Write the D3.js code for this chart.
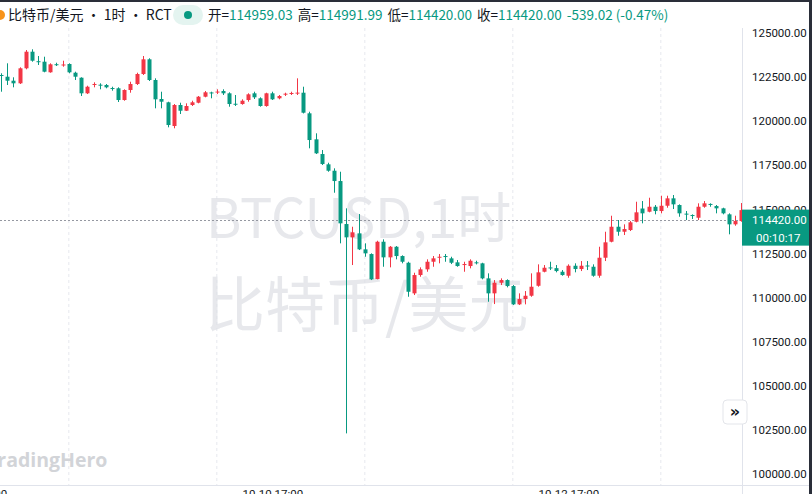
<!DOCTYPE html>
<html>
<head>
<meta charset="utf-8">
<script src="https://cdn.jsdelivr.net/npm/d3@7"></script>
<style>
  body { margin: 0; background: #fff; overflow: hidden; }
  svg { display: block; }
</style>
</head>
<body>
<svg id="chart" width="812" height="494"></svg>
<script>
// hourly candles (display time, UTC+8)
const startTime = new Date(Date.UTC(2025, 9, 8, 21, 0));

const open = [122619,122522,122296,122148,122999,123940,123400,123373,122772,123230,
  123190,123242,122749,122466,121581,122080,122070,122052,121880,121865,
  121201,121768,122108,122675,123509,122335,121258,121071,119727,120918,
  120594,120918,121048,121388,121630,121650,121710,121581,120990,120974,
  121201,121581,121298,120861,121581,121298,121520,121560,121590,121615,
  120447,118973,118139,117555,117192,116608,114170,113416,113643,112736,
  112469,111052,113167,112282,112883,112356,111976,110241,111279,111602,
  112033,112260,112356,112225,111999,111880,111789,112000,111942,111091,
  110241,110842,110995,110655,109617,109918,110105,110670,111466,111710,
  111670,111466,111240,111806,111619,111820,111750,111240,112260,113167,
  114017,113734,113830,114300,115050,114868,115151,114907,115208,115627,
  115248,114760,114680,114527,115151,115310,115190,115060,114720,114153,
  114340,114959.03];
const high = [122715,123282,122488,123055,124036,124076,123696,123656,123282,123316,
  123429,123282,122806,122488,122012,122205,122148,122108,121955,121921,
  121808,122239,122749,123696,123566,122431,121672,121105,120974,121048,
  121014,121161,121428,121711,121672,121808,121808,121638,121485,121241,
  121581,121672,121354,121615,121672,121485,121615,121672,122431,121955,
  120538,119313,118366,117646,117329,117136,115060,114017,114737,113076,
  112509,113223,113303,112923,112923,112396,112033,111409,111715,112169,
  112356,112469,112469,112316,112130,112033,112169,112090,111976,111375,
  110995,111091,111035,110712,110241,110371,111375,111885,111846,112033,
  111846,111562,111885,111942,112072,112072,111885,112883,113734,114641,
  114397,114153,114340,115435,115474,115662,115248,115775,115775,115815,
  115287,114907,114720,115344,115474,115344,115248,115095,114777,114641,
  115361,114991.99];
const low = [121672,122052,121921,122108,122942,123373,123186,122772,122749,123129,
  123089,122715,122335,121428,121541,121921,121808,121865,121728,121088,
  121161,121615,122052,122619,122278,120730,120730,119653,119597,120407,
  120577,120861,121014,121354,121298,121541,121485,120821,120861,120935,
  121105,121258,120821,120821,121201,121241,121428,121485,121485,120440,
  118463,118139,117516,117136,115945,113076,102303,111846,112696,112316,
  110995,111035,111749,111715,112169,111942,110048,110145,111183,111466,
  111749,111942,112033,111902,111749,111466,111658,111880,111035,109765,
  109634,110712,110581,109578,109578,109617,110048,110616,111432,111562,
  111432,111240,111126,111432,111505,111562,111183,111126,112072,113133,
  113507,113547,113773,114267,114210,114834,114720,114777,115095,115021,
  114584,114397,114454,114397,115095,115151,114777,114720,113587,114074,
  114300,114420];
const close = [122580,122296,122148,122999,123940,123429,123373,122806,123225,123200,
  123215,122772,122522,121581,121955,122110,122040,121921,121850,121201,
  121768,122108,122675,123509,122335,121241,121105,119784,120918,120594,
  120861,121071,121388,121638,121600,121680,121581,120974,120960,121161,
  121524,121354,120861,121581,121241,121428,121560,121600,121620,120481,
  118933,118179,117572,117192,116608,114210,113416,113700,112736,112509,
  111035,113167,112282,112883,112356,112033,110332,111279,111602,112033,
  112225,112316,112320,111976,111789,111902,112089,111960,111091,110241,
  110842,110995,110655,109617,109918,110105,110616,111432,111693,111670,
  111505,111279,111806,111619,111806,111790,111240,112260,113133,114017,
  113734,113887,114267,114834,114777,115151,114907,115208,115627,115287,
  114777,114720,114640,115151,115344,115280,115060,114777,114153,114340,
  114959,114420];

const yTicks = [100000,102500,105000,107500,110000,112500,115000,117500,120000,122500,125000];
const xLabelTimes = [Date.UTC(2025,9,8,17), Date.UTC(2025,9,10,17), Date.UTC(2025,9,12,17)];
const gridTimes = [Date.UTC(2025,9,9,8), Date.UTC(2025,9,10,8), Date.UTC(2025,9,11,8),
  Date.UTC(2025,9,12,8), Date.UTC(2025,9,13,8)];

const header = ["开=", "114959.03", "高=", "114991.99", "低=", "114420.00", "收=", "114420.00", "-539.02 (-0.47%)"];
const lastPrice = 114420;

const W = 812, H = 494;
const plotRight = 742, plotBottom = 485;
const up = "#f23645", down = "#089981";

const times = open.map((d, i) => d3.utcHour.offset(startTime, i));
const candles = open.map((o, i) => ({ t: times[i], o: o, h: high[i], l: low[i], c: close[i] }));

const x = d3.scaleUtc().domain([times[0], times[120]]).range([1, 741]);
const y = d3.scaleLinear().domain([100000, 125000]).range([474, 33]);

const svg = d3.select("#chart");
svg.append("rect").attr("width", W).attr("height", H).attr("fill", "#fff");

svg.append("defs").append("clipPath").attr("id", "plot")
  .append("rect").attr("x", 0).attr("y", 28).attr("width", plotRight).attr("height", plotBottom - 28);

// vertical day grid
svg.append("g").selectAll("line").data(gridTimes).join("line")
  .attr("x1", d => x(d)).attr("x2", d => x(d))
  .attr("y1", 28).attr("y2", plotBottom)
  .attr("stroke", "#e6e8ee").attr("stroke-dasharray", "3,3");

// watermark
const wm = svg.append("g").attr("fill", "#dfe1e6").attr("opacity", 0.75)
  .style("font-family", "'Noto Sans CJK SC', 'Noto Sans', sans-serif");
wm.append("text").attr("x", 206).attr("y", 238).attr("font-size", 54).text("BTCUSD,1时");
wm.append("text").attr("x", 205).attr("y", 327).attr("font-size", 60).text("比特币/美元");

// last price line
svg.append("line")
  .attr("x1", 0).attr("x2", plotRight)
  .attr("y1", Math.round(y(lastPrice)) + 0.5).attr("y2", Math.round(y(lastPrice)) + 0.5)
  .attr("stroke", "#9598a1").attr("stroke-dasharray", "2,2");

// candles
const bw = 4;
const cg = svg.append("g").attr("clip-path", "url(#plot)");
const cand = cg.selectAll("g").data(candles).join("g")
  .attr("fill", d => d.c >= d.o ? up : down)
  .attr("stroke", d => d.c >= d.o ? up : down);
cand.append("line")
  .attr("x1", d => Math.round(x(d.t)) + 0.5).attr("x2", d => Math.round(x(d.t)) + 0.5)
  .attr("y1", d => y(d.h)).attr("y2", d => y(d.l));
cand.append("rect")
  .attr("stroke", "none")
  .attr("x", d => Math.round(x(d.t)) - bw / 2 + 0.5)
  .attr("width", bw)
  .attr("y", d => y(Math.max(d.o, d.c)))
  .attr("height", d => Math.max(1, Math.abs(y(d.o) - y(d.c))));

// borders
svg.append("line").attr("x1", plotRight + 0.5).attr("x2", plotRight + 0.5).attr("y1", 28).attr("y2", H)
  .attr("stroke", "#e0e3eb");
svg.append("line").attr("x1", 0).attr("x2", W).attr("y1", plotBottom + 0.5).attr("y2", plotBottom + 0.5)
  .attr("stroke", "#e0e3eb");

// right price axis
const yAxis = svg.append("g").attr("transform", `translate(${plotRight},0)`)
  .call(d3.axisRight(y).tickValues(yTicks).tickFormat(d3.format(".2f")).tickSize(0).tickPadding(10));
yAxis.select(".domain").remove();
yAxis.selectAll("text").attr("fill", "#131722").style("font-family", "Roboto, sans-serif").style("font-size", "11.5px");

// bottom time axis (clipped by the window)
const xAxis = svg.append("g").attr("transform", `translate(0,${plotBottom})`)
  .call(d3.axisBottom(x).tickValues(xLabelTimes.map(d => new Date(d)))
    .tickFormat(d3.utcFormat("%m-%d %H:%M")).tickSize(0).tickPadding(5));
xAxis.select(".domain").remove();
xAxis.selectAll("text").attr("fill", "#131722").style("font-family", "Roboto, sans-serif").style("font-size", "11.5px");

// last price label
const ly = y(lastPrice);
svg.append("rect").attr("x", plotRight).attr("y", ly - 10).attr("width", W - plotRight).attr("height", 36).attr("fill", down);
svg.append("text").attr("x", 752).attr("y", ly + 4).attr("fill", "#fff")
  .style("font-family", "Roboto, sans-serif").style("font-size", "11.5px").text(d3.format(".2f")(lastPrice));
svg.append("text").attr("x", 756).attr("y", ly + 22).attr("fill", "#fff")
  .style("font-family", "Roboto, sans-serif").style("font-size", "11.5px").text("00:10:17");

// scroll button
svg.append("rect").attr("x", 723).attr("y", 400).attr("width", 24).attr("height", 24).attr("rx", 4)
  .attr("fill", "#fff").attr("stroke", "#e3e5ea");
svg.append("text").attr("x", 735).attr("y", 417).attr("text-anchor", "middle").attr("fill", "#131722")
  .style("font-family", "'DejaVu Sans', sans-serif").style("font-size", "16px").style("font-weight", "bold").text("»");

// TradingHero logo
svg.append("text").attr("x", -14).attr("y", 467).attr("fill", "#d2d4d8")
  .style("font-family", "'Open Sans', sans-serif").style("font-size", "19.5px").style("font-weight", "bold").text("TradingHero");

// header
svg.append("rect").attr("width", W).attr("height", 2).attr("fill", "#2a2e39");
svg.append("circle").attr("cx", 0).attr("cy", 15).attr("r", 5).attr("fill", "#f7931a");
svg.append("text").attr("x", 8).attr("y", 20).attr("fill", "#131722")
  .style("font-family", "'Noto Sans CJK SC', sans-serif").style("font-size", "14px")
  .text("比特币/美元 • 1时 • RCT");
svg.append("rect").attr("x", 173).attr("y", 5).attr("width", 30).attr("height", 20).attr("rx", 10).attr("fill", "#e4f4f0");
svg.append("circle").attr("cx", 188).attr("cy", 15).attr("r", 4).attr("fill", down);

const ht = svg.append("text").attr("x", 208).attr("y", 20)
  .style("font-family", "'Noto Sans CJK SC', sans-serif").style("font-size", "13.5px");
header.forEach((s, i) => {
  ht.append("tspan").attr("dx", i > 0 && i % 2 === 0 ? 5 : 0)
    .attr("fill", i % 2 === 0 && i < 8 ? "#131722" : down).text(s);
});

svg.append("rect").attr("x", 809).attr("y", 0).attr("width", 3).attr("height", H).attr("fill", "#2a2e39");
</script>
</body>
</html>
